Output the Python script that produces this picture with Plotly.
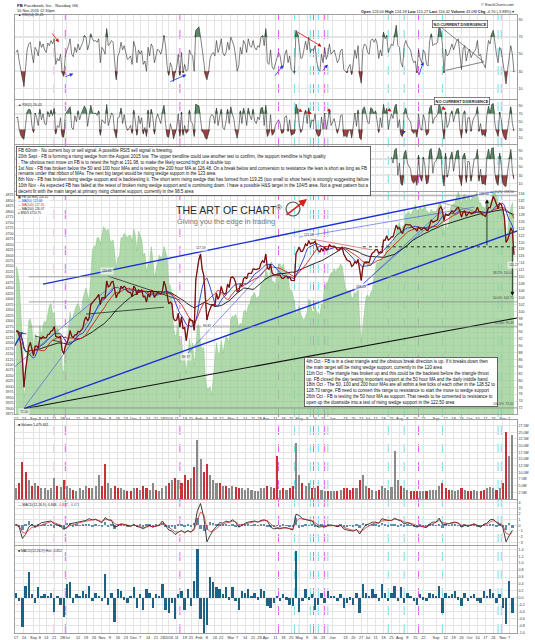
import numpy as np
import pandas as pd
import plotly.graph_objects as go

# ------------------------------------------------------------------ data
holidays = ["2015-09-07", "2015-11-26", "2015-12-25", "2016-01-01", "2016-01-18",
            "2016-02-15", "2016-03-25", "2016-05-30", "2016-07-04", "2016-09-05"]
first_session = "2015-08-17"


def pos(d):
    return int(np.busday_count(first_session, d, holidays=holidays))


# FB closes, one per session
fb_aug15 = [94.2, 94.3, 93.0, 90.6, 86.1, 78.0, 83.0, 87.2, 89.7, 91.0, 89.4]
fb_sep15 = [87.2, 89.9, 90.0, 89.3, 92.3, 92.1, 92.7, 92.3, 92.3, 93.3, 93.4, 94.3, 94.4, 95.6, 92.7, 92.6, 92.3, 92.8, 88.7, 87.7, 89.9]
fb_oct15 = [90.9, 92.1, 94.4, 92.8, 92.4, 93.2, 93.2, 94.2, 94.0, 94.5, 95.1, 97.4, 98.4, 97.3, 98.2, 101.9, 102.4, 103.1, 103.7, 104.2, 104.9, 101.97]
fb_nov15 = [103.95, 104.0, 103.9, 108.8, 107.1, 107.4, 108.5, 108.7, 106.6, 103.9, 105.2, 105.4, 107.3, 106.7, 107.3, 106.8, 105.8, 105.5, 105.5, 104.2]
fb_dec15 = [107.3, 106.7, 104.8, 106.2, 105.8, 106.2, 104.2, 104.4, 102.7, 105.0, 104.1, 106.1, 105.9, 104.0, 104.8, 105.5, 105.3, 105.0, 105.9, 108.7, 107.3, 104.7]
fb_jan16 = [102.2, 102.7, 102.2, 97.9, 97.3, 97.5, 99.4, 95.4, 98.4, 95.0, 95.3, 91.5, 94.1, 97.9, 97.3, 97.3, 94.5, 109.1, 112.2]
fb_feb16 = [115.1, 116.6, 112.2, 110.5, 104.1, 97.5, 99.5, 101.0, 101.9, 102.0, 101.6, 105.2, 103.5, 104.6, 107.2, 105.5, 105.0, 105.2, 107.9, 106.9]
fb_mar16 = [109.8, 109.95, 109.6, 108.4, 105.7, 105.9, 107.7, 107.3, 109.4, 109.9, 109.4, 111.0, 111.0, 111.0, 112.3, 112.2, 112.1, 112.3, 112.4, 113.9, 114.7, 114.1]
fb_apr16 = [116.6, 112.6, 112.2, 113.7, 111.1, 110.6, 110.6, 110.5, 110.5, 110.5, 109.6, 109.5, 110.0, 110.2, 109.6, 110.0, 109.0, 108.9, 108.9, 116.7, 117.6]
fb_may16 = [118.6, 117.4, 117.4, 118.3, 119.5, 119.0, 120.5, 119.5, 119.8, 119.8, 120.3, 118.8, 117.6, 117.2, 118.3, 117.4, 118.6, 117.7, 118.0, 119.4, 118.8]
fb_jun16 = [118.8, 118.9, 118.5, 117.8, 117.8, 118.3, 118.6, 116.6, 115.7, 114.9, 114.6, 114.4, 113.0, 113.4, 114.4, 113.9, 115.1, 112.1, 108.97, 112.7, 114.2, 114.3]
fb_jul16 = [114.2, 114.2, 116.0, 116.9, 117.2, 117.9, 117.9, 116.8, 117.3, 116.9, 120.6, 120.6, 121.9, 120.6, 121.0, 121.6, 121.6, 123.3, 125.0, 123.9]
fb_aug16 = [124.3, 123.1, 122.5, 124.4, 125.2, 125.1, 125.1, 125.0, 124.4, 124.0, 123.9, 123.3, 124.4, 123.9, 123.6, 124.2, 124.2, 123.5, 123.5, 124.96, 126.5, 125.8, 126.1]
fb_sep16 = [126.2, 126.5, 129.7, 130.3, 129.3, 126.3, 128.3, 127.8, 127.8, 128.4, 129.1, 128.7, 129.1, 129.9, 130.1, 129.0, 127.3, 128.7, 129.2, 127.6, 128.3]
fb_oct16 = [128.8, 128.2, 128.5, 128.7, 128.99, 130.2, 128.9, 128.9, 128.0, 127.9, 127.5, 128.6, 130.1, 130.0, 132.07, 133.3, 132.3, 131.0, 129.7, 131.3, 130.99]
fb_nov16 = [129.5, 127.2, 120.0, 120.75, 122.15, 124.2, 123.2, 116.4]
fb_close = (fb_aug15 + fb_sep15 + fb_oct15 + fb_nov15 + fb_dec15 + fb_jan16 + fb_feb16 + fb_mar16
            + fb_apr16 + fb_may16 + fb_jun16 + fb_jul16 + fb_aug16 + fb_sep16 + fb_oct16 + fb_nov16)

# $NDX (green area, left scale), one per session
ndx_aug15 = [4550, 4530, 4480, 4340, 4200, 3950, 4000, 4180, 4300, 4310, 4270]
ndx_sep15 = [4150, 4240, 4230, 4170, 4280, 4230, 4280, 4300, 4290, 4340, 4370, 4380, 4330, 4340, 4260, 4270, 4250, 4200, 4080, 4060, 4180]
ndx_oct15 = [4190, 4260, 4340, 4300, 4330, 4350, 4370, 4380, 4360, 4330, 4400, 4430, 4450, 4420, 4390, 4500, 4620, 4640, 4640, 4680, 4680, 4650]
ndx_nov15 = [4700, 4730, 4720, 4710, 4720, 4670, 4660, 4670, 4610, 4540, 4590, 4590, 4680, 4680, 4700, 4690, 4680, 4690, 4690, 4660]
ndx_dec15 = [4720, 4690, 4620, 4710, 4690, 4670, 4600, 4610, 4520, 4560, 4560, 4640, 4580, 4500, 4530, 4570, 4600, 4590, 4590, 4640, 4620, 4590]
ndx_jan16 = [4470, 4460, 4410, 4270, 4230, 4240, 4290, 4150, 4230, 4130, 4140, 4060, 4130, 4220, 4160, 4200, 4100, 4160, 4280]
ndx_feb16 = [4280, 4190, 4170, 4180, 4040, 3990, 3990, 4000, 3960, 4040, 4110, 4200, 4150, 4150, 4210, 4150, 4190, 4230, 4220, 4200]
ndx_mar16 = [4310, 4320, 4320, 4330, 4310, 4270, 4290, 4280, 4340, 4350, 4330, 4370, 4380, 4410, 4420, 4430, 4400, 4410, 4410, 4470, 4480, 4480]
ndx_apr16 = [4530, 4520, 4480, 4540, 4480, 4480, 4460, 4500, 4560, 4560, 4540, 4560, 4520, 4530, 4520, 4440, 4440, 4420, 4380, 4330, 4340]
ndx_may16 = [4370, 4330, 4310, 4300, 4320, 4340, 4400, 4370, 4350, 4330, 4380, 4330, 4340, 4320, 4380, 4370, 4450, 4470, 4480, 4500, 4520]
ndx_jun16 = [4520, 4540, 4520, 4540, 4540, 4560, 4550, 4490, 4450, 4440, 4430, 4440, 4400, 4410, 4430, 4420, 4470, 4300, 4200, 4270, 4350, 4410]
ndx_jul16 = [4420, 4400, 4430, 4440, 4500, 4530, 4570, 4560, 4580, 4580, 4600, 4600, 4650, 4630, 4650, 4660, 4650, 4680, 4700, 4730]
ndx_aug16 = [4750, 4710, 4730, 4740, 4790, 4790, 4800, 4780, 4800, 4810, 4830, 4800, 4810, 4820, 4810, 4810, 4830, 4800, 4800, 4790, 4810, 4800, 4800]
ndx_sep16 = [4800, 4810, 4840, 4840, 4810, 4690, 4750, 4720, 4740, 4810, 4830, 4830, 4840, 4870, 4890, 4870, 4830, 4870, 4880, 4840, 4870]
ndx_oct16 = [4860, 4850, 4870, 4870, 4860, 4900, 4840, 4840, 4820, 4820, 4810, 4850, 4850, 4840, 4850, 4900, 4890, 4870, 4840, 4820, 4820]
ndx_nov16 = [4790, 4760, 4690, 4700, 4790, 4810, 4840, 4720]
ndx_close = (ndx_aug15 + ndx_sep15 + ndx_oct15 + ndx_nov15 + ndx_dec15 + ndx_jan16 + ndx_feb16 + ndx_mar16
             + ndx_apr16 + ndx_may16 + ndx_jun16 + ndx_jul16 + ndx_aug16 + ndx_sep16 + ndx_oct16 + ndx_nov16)

# RSI(14), one per session
rsi14 = ([52, 55, 42, 30, 22, 12, 38, 55, 62, 64, 50]
         + [40, 58, 55, 48, 65, 58, 62, 55, 52, 63, 60, 66, 62, 68, 38, 45, 42, 50, 28, 24, 48]
         + [55, 60, 68, 50, 47, 58, 52, 62, 55, 60, 64, 72, 70, 55, 62, 74, 68, 65, 66, 64, 68, 40]
         + [58, 55, 50, 80, 60, 62, 66, 64, 45, 20, 48, 52, 64, 55, 60, 52, 44, 45, 48, 38]
         + [65, 58, 40, 55, 50, 54, 38, 42, 30, 58, 48, 62, 58, 40, 50, 56, 54, 50, 58, 72, 60, 36]
         + [25, 40, 35, 18, 28, 35, 50, 25, 52, 28, 38, 30, 32, 55, 50, 48, 30, 78, 80]
         + [82, 70, 52, 42, 25, 20, 28, 45, 50, 52, 48, 66, 52, 58, 68, 52, 48, 52, 64, 55]
         + [70, 66, 60, 48, 30, 36, 58, 50, 66, 62, 52, 68, 60, 58, 66, 58, 55, 60, 58, 70, 72, 60]
         + [80, 40, 38, 55, 35, 32, 40, 45, 52, 48, 36, 35, 50, 55, 40, 48, 32, 30, 28, 78, 74]
         + [60, 45, 46, 56, 65, 55, 70, 52, 56, 54, 60, 42, 32, 30, 50, 40, 58, 44, 50, 62, 50]
         + [52, 55, 48, 40, 44, 54, 56, 32, 30, 28, 35, 38, 26, 40, 55, 45, 60, 25, 16, 55, 62, 60]
         + [52, 50, 66, 68, 64, 68, 62, 45, 55, 48, 76, 68, 72, 52, 58, 62, 60, 74, 84, 60]
         + [58, 40, 35, 60, 66, 60, 58, 55, 45, 40, 42, 28, 55, 45, 40, 55, 52, 38, 36, 66, 74, 60, 62]
         + [62, 64, 84, 78, 62, 28, 56, 48, 50, 56, 62, 55, 60, 66, 68, 50, 32, 56, 60, 42, 52]
         + [56, 46, 50, 54, 56, 66, 48, 50, 40, 38, 34, 52, 66, 62, 74, 78, 62, 50, 40, 58, 54]
         + [40, 30, 15, 32, 45, 60, 50, 29])

# RSI(5), one per session
rsi5 = ([60, 62, 30, 15, 8, 5, 40, 75, 82, 80, 40]
        + [22, 72, 60, 40, 82, 55, 70, 45, 42, 76, 62, 80, 65, 84, 18, 40, 35, 60, 12, 10, 70]
        + [75, 80, 88, 35, 30, 65, 50, 78, 55, 70, 78, 90, 82, 38, 68, 92, 75, 70, 72, 66, 78, 15]
        + [55, 50, 45, 94, 40, 55, 72, 68, 25, 8, 60, 62, 85, 45, 68, 42, 28, 32, 40, 20]
        + [80, 50, 15, 65, 45, 60, 18, 35, 12, 80, 35, 82, 60, 18, 55, 70, 58, 45, 75, 92, 45, 12]
        + [10, 45, 30, 6, 20, 35, 70, 12, 75, 15, 40, 20, 25, 80, 50, 45, 12, 95, 92]
        + [90, 55, 25, 20, 8, 5, 20, 60, 68, 65, 45, 85, 40, 62, 82, 35, 30, 50, 82, 45]
        + [88, 70, 55, 25, 8, 30, 78, 45, 85, 70, 40, 85, 65, 55, 82, 52, 45, 62, 55, 85, 86, 40]
        + [92, 12, 20, 68, 15, 20, 40, 48, 55, 45, 20, 22, 62, 65, 25, 55, 15, 18, 20, 95, 80]
        + [45, 22, 30, 65, 80, 45, 85, 35, 55, 50, 70, 20, 12, 15, 62, 30, 72, 30, 52, 80, 40]
        + [50, 58, 38, 20, 35, 65, 68, 12, 15, 10, 25, 30, 8, 45, 72, 38, 80, 8, 4, 82, 88, 70]
        + [48, 45, 86, 82, 70, 78, 55, 22, 60, 35, 94, 72, 84, 30, 55, 70, 58, 88, 95, 35]
        + [55, 15, 12, 75, 85, 62, 55, 50, 25, 20, 28, 10, 70, 35, 28, 68, 55, 15, 20, 85, 92, 45, 60]
        + [62, 70, 96, 85, 40, 5, 75, 35, 45, 68, 78, 50, 68, 82, 84, 30, 8, 70, 78, 20, 60]
        + [60, 25, 50, 62, 65, 88, 25, 45, 15, 18, 12, 68, 90, 72, 94, 96, 45, 25, 12, 75, 55]
        + [20, 8, 3, 35, 65, 88, 45, 26])

# RSI(3), visible part only (from 25 Jul 2016)
rsi3_start = "2016-07-25"
rsi3 = ([75, 60, 92, 97, 30]
        + [60, 8, 5, 85, 92, 60, 50, 45, 15, 10, 20, 5, 80, 25, 15, 75, 55, 8, 12, 92, 96, 35, 62]
        + [65, 78, 98, 90, 30, 3, 85, 25, 40, 75, 88, 40, 72, 90, 92, 20, 4, 78, 85, 12, 65]
        + [62, 15, 50, 70, 72, 94, 15, 45, 8, 10, 6, 75, 95, 70, 97, 98, 35, 12, 5, 85, 55]
        + [10, 4, 2, 40, 75, 94, 40, 20])

# every second session: volume (millions), MACD line, MACD histogram
volume_m = [4, 6, 14, 10, 7, 5,
            6, 5, 4, 4, 3.5, 4, 8, 5, 4.5, 7,
            5, 4, 3.5, 3, 4, 3.5, 5, 4, 4, 5, 9,
            5, 13, 6, 4, 5, 4, 4, 3.5, 3, 3,
            4, 4, 3.5, 5, 4, 3.5, 6, 3.5, 3, 4, 5,
            6, 7, 8, 7, 6, 9, 7, 8, 12, 22,
            15, 10, 13, 9, 7, 6, 6, 5, 5, 4,
            5, 4.5, 4, 4, 3.5, 4, 3.5, 3, 3, 4, 4,
            5, 4.5, 4, 16, 3.5, 4, 3.5, 4, 5, 21,
            9, 6, 5, 6, 4, 4, 5, 3.5, 3, 3, 3,
            3, 3, 3.5, 4, 4, 3.5, 4, 4, 7, 9, 5,
            4, 3.5, 3, 3.5, 5, 4, 3.5, 4.5, 18, 7,
            5, 4, 3.5, 3, 3, 3, 3, 3, 3, 3.5, 3.5,
            3.5, 5, 6, 4, 3.5, 3.5, 3, 3.5, 4, 3.5, 3,
            3, 3.5, 3, 3, 3.5, 4, 4.5, 4, 3.5, 4,
            6, 25, 16, 24]
macd_line = [0.2, -0.3, -2.3, -1.6, -0.3, 0.2,
             -0.3, 0.1, 0.5, 0.6, 0.7, 0.8, 0.3, 0.1, -0.1, -0.7,
             -0.4, 0.3, 0.4, 0.5, 0.6, 0.8, 0.9, 1.2, 1.0, 1.1, 0.8,
             0.5, 1.4, 1.0, 0.9, -0.3, -0.1, 0.3, 0.2, 0.0, -0.2,
             0.2, -0.2, -0.3, -0.6, -0.2, 0.0, -0.3, -0.1, 0.1, 0.8, 0.0,
             -0.8, -1.0, -1.6, -1.2, -0.9, -1.3, -0.9, -1.2, -0.5, 2.6,
             3.9, 1.5, -2.9, -1.8, -0.8, -0.2, 0.5, 0.4, 0.8, 0.6,
             1.0, 0.6, -0.3, 0.0, 0.4, 0.6, 0.7, 0.8, 0.6, 0.9, 1.0,
             0.8, -0.3, -0.6, -0.5, -0.6, -0.4, -0.4, -0.6, -0.8, 2.0,
             1.8, 1.2, 1.0, 0.9, 0.8, 0.1, -0.3, -0.2, -0.3, 0.0, 0.1,
             0.0, -0.2, 0.0, -0.6, -0.8, -0.9, -1.0, -0.7, -1.5, -0.6, 0.1,
             0.3, 0.6, 0.6, 0.4, 1.2, 1.0, 0.9, 0.9, 1.3, 1.0,
             0.8, 0.3, 0.5, 0.3, 0.0, -0.3, -0.1, -0.2, -0.4, 0.3, 0.6,
             0.6, 1.3, 0.2, 0.2, 0.3, 0.5, 0.6, 0.4, -0.3, 0.0, -0.1,
             0.1, 0.3, 0.0, -0.3, 0.2, 0.4, 1.0, 1.1, 0.5, 0.2,
             -0.3, -2.9, -1.8, -0.85]
macd_hist = [0.15, -0.10, -0.85, 0.35, 0.75, 0.10,
             -0.15, 0.30, 0.05, 0.10, 0.05, 0.15, -0.40, 0.05, -0.20, -0.55,
             0.40, 0.45, -0.15, 0.10, 0.05, 0.20, 0.10, 0.35, -0.10, 0.15, 0.05,
             -0.10, 0.70, -0.20, 0.15, -0.70, 0.25, 0.20, -0.05, -0.15, 0.05,
             0.30, -0.30, 0.10, -0.35, 0.25, 0.15, -0.30, 0.10, 0.05, 0.40, -0.35,
             -0.45, -0.15, -0.60, 0.10, 0.20, -0.35, 0.25, -0.25, 0.50, 1.40,
             -0.60, -1.05, -0.80, 0.60, 0.45, 0.30, 0.25, 0.10, 0.30, -0.05,
             0.30, -0.10, -0.35, 0.20, 0.15, 0.25, 0.05, 0.15, -0.05, 0.25, 0.20,
             -0.25, -0.30, -0.15, 0.05, -0.10, 0.10, -0.05, -0.20, -0.25, 1.35,
             -0.40, -0.10, 0.25, -0.05, 0.10, -0.35, -0.20, 0.15, -0.15, 0.20, 0.05,
             0.05, -0.10, 0.10, -0.30, -0.15, -0.05, -0.20, 0.15, -0.45, 0.40, 0.15,
             0.05, 0.25, 0.10, -0.10, 0.40, 0.15, -0.10, 0.15, 0.35, -0.10,
             0.30, -0.15, 0.15, 0.05, -0.10, -0.20, 0.10, -0.05, -0.10, 0.15, 0.10,
             0.05, 0.35, -0.45, 0.15, 0.05, 0.10, 0.20, -0.05, -0.25, 0.15, -0.10,
             0.05, 0.10, -0.10, -0.15, 0.20, 0.05, 0.25, 0.15, -0.15, 0.10,
             -0.30, -0.75, 0.50, -0.45]

# x-axis ticks
tick_list = [("2015-08-17", "17"), ("2015-08-24", "24"), ("2015-09-01", "Sep"), ("2015-09-08", "8"),
             ("2015-09-14", "14"), ("2015-09-21", "21"), ("2015-09-28", "28"), ("2015-10-01", "Oct"),
             ("2015-10-12", "12"), ("2015-10-19", "19"), ("2015-10-26", "26"), ("2015-11-02", "Nov"),
             ("2015-11-09", "9"), ("2015-11-16", "16"), ("2015-11-23", "23"), ("2015-12-01", "Dec"),
             ("2015-12-07", "7"), ("2015-12-14", "14"), ("2015-12-21", "21"), ("2015-12-28", "28"),
             ("2016-01-04", "2016"), ("2016-01-11", "11"), ("2016-01-19", "19"), ("2016-01-25", "25"),
             ("2016-02-01", "Feb"), ("2016-02-08", "8"), ("2016-02-16", "16"), ("2016-02-22", "22"),
             ("2016-03-01", "Mar"), ("2016-03-07", "7"), ("2016-03-14", "14"), ("2016-03-21", "21"),
             ("2016-03-28", "28"), ("2016-04-01", "Apr"), ("2016-04-11", "11"), ("2016-04-18", "18"),
             ("2016-04-25", "25"), ("2016-05-02", "May"), ("2016-05-09", "9"), ("2016-05-16", "16"),
             ("2016-05-23", "23"), ("2016-06-01", "Jun"), ("2016-06-13", "13"), ("2016-06-20", "20"),
             ("2016-06-27", "27"), ("2016-07-01", "Jul"), ("2016-07-11", "11"), ("2016-07-18", "18"),
             ("2016-07-25", "25"), ("2016-08-01", "Aug"), ("2016-08-08", "8"), ("2016-08-15", "15"),
             ("2016-08-22", "22"), ("2016-09-01", "Sep"), ("2016-09-12", "12"), ("2016-09-19", "19"),
             ("2016-09-26", "26"), ("2016-10-03", "Oct"), ("2016-10-10", "10"), ("2016-10-17", "17"),
             ("2016-10-24", "24"), ("2016-11-01", "Nov"), ("2016-11-07", "7")]

magenta_days = ["2015-09-21", "2015-09-30", "2016-01-13", "2016-04-13", "2016-05-13", "2016-05-24", "2016-08-17"]
cyan_days = ["2016-04-27", "2016-05-02", "2016-05-11", "2016-05-18", "2016-05-26", "2016-07-21", "2016-08-04",
             "2016-08-22", "2016-09-08", "2016-09-26", "2016-10-27", "2016-10-31"]

# trendlines on the price panel: (date0, price0, date1, price1, colour, width, dash)
trend_lines = [
    ("2015-09-10", 107.9, "2016-11-14", 136.1, "#1b2fd6", 1.4, "solid"),
    ("2015-08-24", 71.8, "2016-11-14", 123.3, "#1b2fd6", 1.4, "solid"),
    ("2015-08-24", 71.8, "2016-11-14", 98.1, "#111111", 1.1, "solid"),
    ("2015-08-24", 72.0, "2015-11-11", 107.0, "#3a4ee8", 0.6, "solid"),
    ("2015-08-14", 83.9, "2015-11-05", 106.2, "#3a4ee8", 0.6, "solid"),
    ("2015-08-14", 89.9, "2015-08-21", 93.9, "#1b2fd6", 1.4, "solid"),
    ("2016-01-21", 87.9, "2016-04-07", 114.3, "#3a4ee8", 0.6, "solid"),
    ("2016-06-28", 107.9, "2016-09-12", 130.2, "#3a4ee8", 0.6, "solid"),
    ("2016-06-28", 107.9, "2016-08-26", 125.0, "#3a4ee8", 0.6, "solid"),
    ("2016-05-02", 121.5, "2016-10-06", 130.2, "#3a4ee8", 0.6, "solid"),
    ("2016-05-11", 121.0, "2016-07-07", 117.8, "#d03030", 0.6, "solid"),
    ("2016-09-08", 131.4, "2016-10-10", 128.8, "#777777", 0.6, "solid"),
    ("2015-11-06", 110.2, "2016-01-13", 103.3, "#111111", 0.7, "solid"),
    ("2015-10-19", 99.2, "2015-12-29", 101.2, "#111111", 0.7, "solid"),
    ("2015-08-18", 94.0, "2015-09-30", 90.8, "#111111", 0.7, "dash"),
]
neckline = ("2016-06-28", "2016-11-14", 118.7)
arrow_up = ("2016-10-18", 118.7, 132.5)
arrow_down = ("2016-11-09", 119.2, 104.5)

fib_low, fib_high = 72.00, 133.50
fib_ratios = [0.0, 0.382, 0.5, 0.618, 1.0]
fib_start = "2015-08-27"

price_labels = [("72.00", "2015-08-24", 70.9), ("110.65", "2015-11-05", 111.7), ("89.37", "2016-01-20", 86.8),
                ("117.59", "2016-02-02", 118.5), ("96.82", "2016-02-08", 95.7), ("121.08", "2016-05-10", 122.1),
                ("108.23", "2016-06-27", 107.1), ("133.50", "2016-10-14", 133.9), ("115.27", "2016-11-10", 113.5)]

rsi14_arrows = [("2015-09-17", 76, "2015-09-24", 64, "#d01010"), ("2015-09-29", 23, "2015-10-07", 27, "#2030e0"),
                ("2016-01-04", 17, "2016-01-20", 26, "#2030e0"), ("2016-04-08", 23, "2016-04-18", 37, "#2030e0"),
                ("2016-04-28", 77, "2016-05-20", 59, "#d01010"), ("2016-05-20", 29, "2016-05-26", 38, "#2030e0"),
                ("2016-08-17", 24, "2016-08-22", 41, "#2030e0")]
rsi14_triangle = [("2016-09-07", 82, "2016-10-14", 41), ("2016-09-12", 31, "2016-10-14", 41)]
rsi5_arrows = [("2016-04-28", 84, "2016-05-04", 75, "#d01010"), ("2016-05-05", 77, "2016-05-12", 70, "#d01010"),
               ("2016-05-25", 84, "2016-05-31", 75, "#d01010"), ("2016-07-20", 84, "2016-07-25", 76, "#d01010"),
               ("2016-09-07", 89, "2016-09-12", 80, "#d01010"), ("2016-08-03", 22, "2016-08-05", 26, "#2030e0")]

note_top = ("FB 60min - No current buy or sell signal. A possible RSI5 sell signal is brewing.<br>"
            "20th Sept - FB is forming a rising wedge from the August 2015 low. The upper trendline could use another test to confirm, the support trendline is high quality<br>"
            ". The obvious next move on FB is to retest the high at 131.98, to make the likely second high of a double top<br>"
            "1st Nov - FB has broken below the 50 and 100 hour MAs and is testing the 200 hour MA at 126.48. On a break below and conversion to resistance the lean is short as long as FB<br>"
            "remains under that ribbon of MAs. The next big target would be rising wedge support in the 123 area<br>"
            "8th Nov - FB has broken rising wedge support and is backtesting it. The short term rising wedge that has formed from 119.25 (too small to show here) is strongly suggesting failure<br>"
            "10th Nov - As expected FB has failed at the retest of broken rising wedge support and is continuing down. I have a possible H&S target in the 104/5 area. Not a great pattern but a<br>"
            "decent fit with the main target at primary rising channel support, currently in the 98.5 area")
note_mid = ("4th Oct - FB is in a clear triangle and the obvious break direction is up. If it breaks down then<br>"
            "the main target will be rising wedge support, currently in the 120 area<br>"
            "11th Oct - The triangle has broken up and this could be the backtest before the triangle thrust<br>"
            "up. FB closed the day testing important support at the 50 hour MA and the daily middle band.<br>"
            "18th Oct - The 50, 100 and 200 hour MAs are all within a few ticks of each other in the 128.52 to<br>"
            "128.70 range. FB need to convert this range to resistance to start the move to wedge support<br>"
            "26th Oct - FB is testing the 50 hour MA as support. That needs to be converted to resistance to<br>"
            "open up the downside into a test of rising wedge support in the 122.50 area")

# ------------------------------------------------------------------ geometry helpers
W, H = 535, 640
ML, MR, MT, MB = 15, 18, 0, 7
PH = H - MT - MB


def fy(px):
    return (PH - px) / PH


def fx(px):
    return (px - ML) / (W - ML - MR)


XR = [-0.63, 314.9]
FONT = "Liberation Sans, Arial, sans-serif"

fig = go.Figure()

sess = np.arange(len(fb_close))
half = np.arange(len(macd_line)) * 2


def line(x, y, xa, ya, color, width, dash="solid", **kw):
    fig.add_trace(go.Scatter(x=x, y=y, mode="lines", xaxis=xa, yaxis=ya, hoverinfo="skip",
                             line=dict(color=color, width=width, dash=dash), **kw))


def rsi_panel(xs, vals, xa, ya):
    v = np.asarray(vals, float)
    line(xs, np.full(len(v), 70.0), xa, ya, "rgba(0,0,0,0)", 0)
    line(xs, np.maximum(v, 70), xa, ya, "rgba(0,0,0,0)", 0, fill="tonexty", fillcolor="rgba(61,122,76,0.85)")
    line(xs, np.full(len(v), 30.0), xa, ya, "rgba(0,0,0,0)", 0)
    line(xs, np.minimum(v, 30), xa, ya, "rgba(0,0,0,0)", 0, fill="tonexty", fillcolor="rgba(138,34,34,0.85)")
    line(xs, v, xa, ya, "#2b2b2b", 0.6)


rsi_panel(sess[:len(rsi14)], rsi14, "x", "y")
rsi_panel(sess[:len(rsi5)], rsi5, "x2", "y2")
rsi_panel(pos(rsi3_start) + np.arange(len(rsi3)), rsi3, "x3", "y3")

# main panel
fig.add_trace(go.Scatter(x=sess[:len(ndx_close)], y=ndx_close, mode="lines", xaxis="x4", yaxis="y4",
                         fill="tozeroy", fillcolor="rgba(146,204,140,0.72)",
                         line=dict(color="#86c47f", width=0.5), hoverinfo="skip"))
for d0, p0, d1, p1, c, w, ds in trend_lines:
    line([pos(d0), pos(d1)], [p0, p1], "x4", "y8", c, w, ds)
line([pos(neckline[0]), pos(neckline[1])], [neckline[2]] * 2, "x4", "y8", "#111111", 0.9, "dot")
for r in fib_ratios:
    lvl = fib_high - r * (fib_high - fib_low)
    line([pos(fib_start), pos("2016-11-14")], [lvl, lvl], "x4", "y8", "#8c8c8c", 0.8)

closes = pd.Series(fb_close)
ma50 = closes.rolling(8, min_periods=1).mean()
ma100 = closes.rolling(15, min_periods=1).mean()
ma200 = closes.rolling(31, min_periods=1).mean()
line(sess, ma200, "x4", "y8", "#111111", 0.9)
line(sess, ma100, "x4", "y8", "#d42020", 0.9)
line(sess, ma50, "x4", "y8", "#2038c8", 0.9)
line(sess, fb_close, "x4", "y8", "#b01e1e", 1.3)
line(sess, fb_close, "x4", "y8", "#200808", 0.45)

# volume
vol_x = half[:len(volume_m)]
vol_col = ["#c8303a" if (k > 0 and fb_close[x] < fb_close[x - 2]) else "#8a8a8a" for k, x in enumerate(vol_x)]
fig.add_trace(go.Bar(x=vol_x, y=volume_m, xaxis="x5", yaxis="y5", marker=dict(color=vol_col, line=dict(width=0)),
                     width=1.3, hoverinfo="skip"))

# MACD
signal = pd.Series(macd_line).ewm(span=3, adjust=False).mean()
fig.add_trace(go.Bar(x=half[:len(macd_hist)], y=macd_hist, xaxis="x6", yaxis="y6",
                     marker=dict(color="#5f8fb0", line=dict(width=0)), width=1.5, hoverinfo="skip"))
line(half, macd_line, "x6", "y6", "#111111", 0.8)
line(half, signal, "x6", "y6", "#d42020", 0.7)
fig.add_trace(go.Bar(x=half[:len(macd_hist)], y=macd_hist, xaxis="x7", yaxis="y7",
                     marker=dict(color="#1d6284", line=dict(width=0)), width=1.5, hoverinfo="skip"))

# ------------------------------------------------------------------ axes
tick_pos = [pos(d) for d, _ in tick_list]
tick_txt = [t for _, t in tick_list]


def xax(anchor, show):
    return dict(range=XR, domain=[0, 1], anchor=anchor, tickvals=tick_pos, ticktext=tick_txt,
                showticklabels=show, showgrid=True, gridcolor="#e4e4e4", gridwidth=0.6,
                showline=True, linecolor="#a0a0a0", linewidth=0.7, mirror=True, zeroline=False,
                ticks="", tickangle=0, tickfont=dict(size=3.9, color="#333"), fixedrange=True)


def yax(anchor, dom, rng, vals, texts=None, side="right", grid=True, **kw):
    d = dict(anchor=anchor, domain=dom, range=rng, side=side, tickvals=vals,
             showgrid=grid, gridcolor="#e4e4e4", gridwidth=0.6, zeroline=False,
             showline=True, linecolor="#a0a0a0", linewidth=0.7, mirror=True, ticks="",
             tickfont=dict(size=3.6, color="#333"), fixedrange=True)
    if texts is not None:
        d["ticktext"] = texts
    d.update(kw)
    return d


rsi_ticks = [10, 30, 50, 70, 90]
vol_ticks = [2.5 * i for i in range(1, 12)]
hist_ticks = [round(-1.0 + 0.2 * i, 1) for i in range(13)]

layout = dict(
    width=W, height=H, margin=dict(l=ML, r=MR, t=MT, b=MB),
    paper_bgcolor="white", plot_bgcolor="white", showlegend=False, bargap=0,
    font=dict(family=FONT, color="#222"),
    xaxis=xax("y", False), xaxis2=xax("y2", False), xaxis3=xax("y3", False),
    xaxis4=xax("y4", True), xaxis5=xax("y5", False), xaxis6=xax("y6", False), xaxis7=xax("y7", True),
    yaxis=yax("x", [fy(99), fy(15)], [-2.5, 95.9], rsi_ticks),
    yaxis2=yax("x2", [fy(144), fy(100)], [-7.1, 105.3], rsi_ticks),
    yaxis3=yax("x3", [fy(191), fy(145)], [-9.0, 104.9], rsi_ticks),
    yaxis4=yax("x4", [fy(414), fy(192)], [3875, 4889], list(range(3875, 4876, 25)), side="left", grid=False),
    yaxis8=yax("x4", [fy(414), fy(192)], [70.26, 134.58], list(range(72, 135, 2)), overlaying="y4"),
    yaxis5=yax("x5", [fy(499), fy(420)], [0, 29.6], vol_ticks, [f"{v:.1f}M" for v in vol_ticks]),
    yaxis6=yax("x6", [fy(545), fy(500)], [-3.47, 4.53], list(range(-3, 5))),
    yaxis7=yax("x7", [fy(PH), fy(546)], [-1.017, 1.497], hist_ticks, [f"{v:.1f}" for v in hist_ticks]),
)
fig.update_layout(**layout)

# ------------------------------------------------------------------ shapes
shapes = []
for d in magenta_days:
    shapes.append(dict(type="line", xref="x4", yref="paper", x0=pos(d), x1=pos(d), y0=0, y1=fy(15),
                       line=dict(color="#e050e8", width=0.9, dash="dash"), layer="below"))
for d in cyan_days:
    shapes.append(dict(type="line", xref="x4", yref="paper", x0=pos(d), x1=pos(d), y0=0, y1=fy(15),
                       line=dict(color="#5fd8e8", width=0.9, dash="dash"), layer="below"))
for ya, yv in [("y", 70), ("y", 50), ("y", 30), ("y2", 70), ("y2", 50), ("y2", 30), ("y3", 70), ("y3", 50), ("y3", 30)]:
    shapes.append(dict(type="line", xref="x", yref=ya, x0=XR[0], x1=XR[1], y0=yv, y1=yv,
                       line=dict(color="#9a9a9a" if yv != 50 else "#c8c8c8", width=0.7), layer="below"))
shapes.append(dict(type="line", xref="x6", yref="y6", x0=XR[0], x1=XR[1], y0=0, y1=0,
                   line=dict(color="#9a9a9a", width=0.6), layer="below"))
shapes.append(dict(type="line", xref="x7", yref="y7", x0=XR[0], x1=XR[1], y0=0, y1=0,
                   line=dict(color="#9a9a9a", width=0.6), layer="below"))
for d0, v0, d1, v1 in rsi14_triangle:
    shapes.append(dict(type="line", xref="x", yref="y", x0=pos(d0), x1=pos(d1), y0=v0, y1=v1,
                       line=dict(color="#333", width=0.6)))
# logo ring
shapes.append(dict(type="circle", xref="paper", yref="paper", x0=fx(286), x1=fx(300), y0=fy(216), y1=fy(202),
                   line=dict(color="#555", width=1.2)))
fig.update_layout(shapes=shapes)

# ------------------------------------------------------------------ annotations
ann = []


def text(px, py, s, size, color="#222", xanchor="left", yanchor="top", **kw):
    ann.append(dict(x=fx(px), y=fy(py), xref="paper", yref="paper", text=s, showarrow=False,
                    xanchor=xanchor, yanchor=yanchor, align="left",
                    font=dict(size=size, color=color, family=FONT), **kw))


text(15, 0.5, "<b>FB</b> Facebook, Inc.  Nasdaq GS", 4.4)
text(15, 6.5, "10-Nov-2016 12:30pm", 3.8)
text(516, 0.5, "© StockCharts.com", 3.8, xanchor="right")
text(516, 6.5, "<b>Open</b> 123.00 <b>High</b> 124.18 <b>Low</b> 115.27 <b>Last</b> 116.42 "
     "<b>Volume</b> 43.0M <b>Chg</b> -4.70 (-3.88%) ▾", 3.9, xanchor="right")
text(16, 10.5, "▲ RSI(14) 29.25", 3.4)
text(16, 100.5, "▲ RSI(5) 26.43", 3.4)
text(16, 192.5, "▦ FB (60 min) 116.42<br><span style='color:#2038c8'>— MA(50) 125.86</span><br>"
     "<span style='color:#d42020'>— MA(100) 127.35</span><br>— MA(200) 126.07<br>"
     "<span style='color:#5fae57'>■</span> $NDX 4720.75", 3.1, bgcolor="rgba(255,255,255,0.7)")
text(16, 420.5, "■ Volume 1,479,841", 3.4)
text(16, 500.5, "— MACD(12,26,9) -0.848, <span style='color:#d42020'>-0.377</span>, "
     "<span style='color:#3b6fb0'>-0.471</span>", 3.4)
text(16, 546.5, "■ MACD(12,26,9) Hist -0.452", 3.4)

text(16, 146, note_top, 4.45, color="#111", bgcolor="white", bordercolor="#444", borderwidth=0.8, borderpad=1.5)
text(304, 356.5, note_mid, 4.45, color="#111", bgcolor="white", bordercolor="#444", borderwidth=0.8, borderpad=1.5)

text(174, 201.5, "THE ART OF CHART<sup>®</sup>", 10.5, color="#2a2a2a")
text(175, 214.5, "Giving you the edge in trading", 7.4, color="#7a7a7a")
ann.append(dict(x=fx(307), y=fy(199), ax=-22, ay=17, xref="paper", yref="paper",
                text="", showarrow=True, arrowhead=2, arrowsize=1, arrowwidth=1.6,
                arrowcolor="#d42020"))

text(432, 19.5, "<b>NO CURRENT DIVERGENCE</b>", 3.9, bgcolor="white", bordercolor="#333", borderwidth=0.6,
     borderpad=1)
text(434, 97.5, "<b>NO CURRENT DIVERGENCE</b>", 3.9, bgcolor="white", bordercolor="#333", borderwidth=0.6,
     borderpad=1)

for xa, ya, lst in [("x", "y", rsi14_arrows), ("x2", "y2", rsi5_arrows)]:
    for d0, v0, d1, v1, c in lst:
        ann.append(dict(x=pos(d1), y=v1, ax=pos(d0), ay=v0, xref=xa, yref=ya, axref=xa, ayref=ya, text="",
                        showarrow=True, arrowhead=2, arrowsize=0.9, arrowwidth=0.8, arrowcolor=c))

for d, p0, p1 in [arrow_up, arrow_down]:
    ann.append(dict(x=pos(d), y=p1, ax=pos(d), ay=p0, xref="x4", yref="y8", axref="x4", ayref="y8", text="",
                    showarrow=True, arrowhead=2, arrowsize=1, arrowwidth=0.8, arrowcolor="#111"))

for s, d, p in price_labels:
    ann.append(dict(x=pos(d), y=p, xref="x4", yref="y8", text=s, showarrow=False,
                    font=dict(size=3.2, color="#333", family=FONT), bgcolor="rgba(255,255,255,0.6)"))
for r in fib_ratios:
    lvl = fib_high - r * (fib_high - fib_low)
    ann.append(dict(x=XR[1] - 0.5, y=lvl, xref="x4", yref="y8", text=f"{r * 100:.1f}%: {lvl:.2f}",
                    showarrow=False, xanchor="right", yanchor="bottom",
                    font=dict(size=3.2, color="#444", family=FONT)))

fig.update_layout(annotations=ann)
fig.write_html("out.html", config={"displayModeBar": False},
               post_script="document.body.style.margin='0';")
